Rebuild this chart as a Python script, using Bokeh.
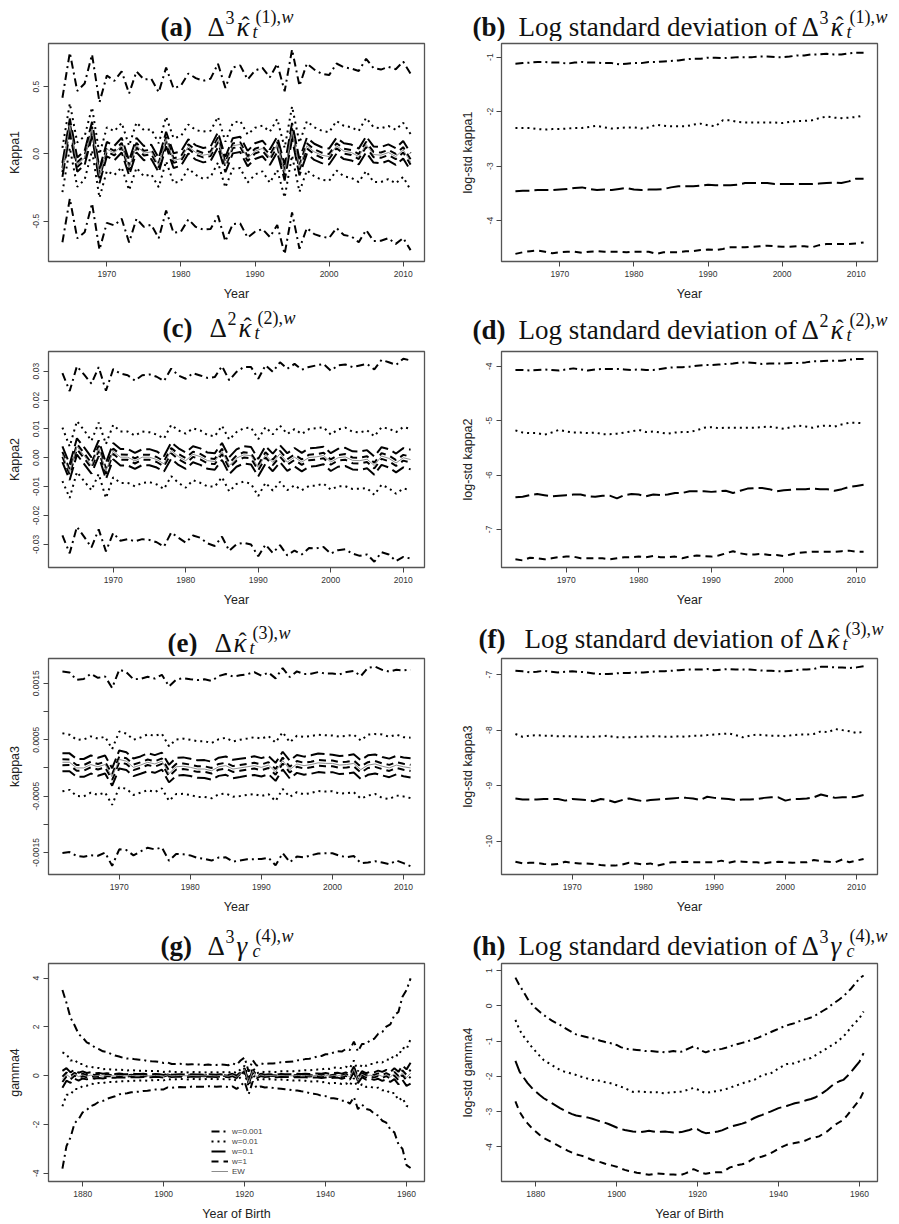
import numpy as np
from bokeh.plotting import figure
from bokeh.layouts import column, row
from bokeh.models import Range1d, FixedTicker, Label, Legend, LegendItem
from bokeh.embed import file_html
from bokeh.resources import INLINE

# ---------------- data ----------------
W_LABELS = ["w=0.001", "w=0.01", "w=0.1", "w=1"]
Z90 = 1.645  # half-width of the interval in standard deviations

# kappa1 (panels a, b) 1964-2011
years_k1 = list(range(1964, 2012))
center_k1 = [-0.12, 0.21, -0.08, -0.03, 0.185, -0.165, 0.035, 0.005, 0.065, -0.105,
             0.065, 0.005, 0.015, -0.085, 0.11, -0.05, -0.035, 0.055, 0.01, -0.01,
             0.0, 0.105, -0.08, 0.06, 0.07, -0.035, 0.02, 0.04, -0.025, 0.07,
             -0.14, 0.17, -0.1, 0.06, 0.015, -0.01, -0.02, 0.06, 0.02, 0.01,
             -0.02, 0.07, -0.005, -0.01, 0.01, -0.02, 0.03, -0.06]
lsd_k1_w0001 = [-1.12, -1.11, -1.10, -1.09, -1.09, -1.10, -1.10, -1.12, -1.10, -1.09,
                -1.10, -1.10, -1.11, -1.11, -1.13, -1.12, -1.11, -1.11, -1.09, -1.09,
                -1.08, -1.07, -1.06, -1.04, -1.03, -1.03, -1.01, -1.01, -1.02, -1.01,
                -1.00, -1.00, -1.00, -0.99, -0.99, -1.00, -1.00, -0.99, -0.97, -0.97,
                -0.95, -0.95, -0.94, -0.95, -0.95, -0.93, -0.92, -0.92]
lsd_k1_w001 = [-2.30, -2.30, -2.30, -2.32, -2.33, -2.32, -2.32, -2.31, -2.30, -2.30,
               -2.28, -2.26, -2.29, -2.31, -2.30, -2.29, -2.29, -2.31, -2.29, -2.24,
               -2.26, -2.27, -2.27, -2.27, -2.24, -2.22, -2.25, -2.27, -2.16, -2.16,
               -2.19, -2.20, -2.20, -2.20, -2.20, -2.20, -2.21, -2.19, -2.17, -2.17,
               -2.16, -2.12, -2.09, -2.11, -2.12, -2.11, -2.10, -2.07]
lsd_k1_w01 = [-3.46, -3.45, -3.45, -3.44, -3.44, -3.44, -3.43, -3.42, -3.40, -3.39,
              -3.42, -3.44, -3.43, -3.44, -3.42, -3.40, -3.43, -3.44, -3.43, -3.43,
              -3.42, -3.39, -3.37, -3.37, -3.37, -3.36, -3.34, -3.35, -3.35, -3.35,
              -3.34, -3.31, -3.31, -3.31, -3.31, -3.33, -3.33, -3.33, -3.33, -3.33,
              -3.33, -3.32, -3.31, -3.30, -3.31, -3.28, -3.23, -3.23]
lsd_k1_w1 = [-4.61, -4.58, -4.56, -4.55, -4.57, -4.60, -4.58, -4.57, -4.57, -4.59,
             -4.57, -4.56, -4.57, -4.57, -4.57, -4.58, -4.57, -4.57, -4.57, -4.61,
             -4.58, -4.58, -4.58, -4.56, -4.56, -4.54, -4.53, -4.54, -4.52, -4.49,
             -4.49, -4.49, -4.48, -4.47, -4.46, -4.47, -4.48, -4.48, -4.47, -4.47,
             -4.49, -4.45, -4.43, -4.43, -4.43, -4.43, -4.42, -4.40]

# kappa2 (panels c, d) 1963-2011
years_k2 = list(range(1963, 2012))
center_k2 = [0.0012, -0.005, 0.0039, 0.0007, -0.0027, 0.0033, -0.0046, 0.0023, 0.0002, 0.0002,
             -0.0011, 0.0002, 0.0002, -0.0006, -0.0021, 0.0025, 0.0004, -0.001, 0.0012, 0.0004,
             -0.001, -0.0013, 0.0022, -0.0027, -0.0001, 0.001, 0.0007, -0.0034, 0.001, -0.0016,
             0.0014, -0.0015, 0.0002, -0.0015, 0.0001, 0.0003, 0.0008, -0.0015, 0.0, 0.0003,
             -0.0009, -0.001, -0.0005, -0.0027, 0.0006, -0.0002, -0.0018, 0.0, -0.0006]
lsd_k2_w0001 = [-4.07, -4.07, -4.08, -4.07, -4.06, -4.07, -4.08, -4.06, -4.04, -4.06,
                -4.08, -4.06, -4.05, -4.05, -4.05, -4.06, -4.07, -4.06, -4.07, -4.07,
                -4.05, -4.03, -4.02, -4.02, -4.01, -3.99, -3.98, -3.98, -3.97, -3.96,
                -3.95, -3.93, -3.93, -3.94, -3.96, -3.95, -3.95, -3.95, -3.94, -3.94,
                -3.93, -3.91, -3.91, -3.90, -3.90, -3.90, -3.88, -3.87, -3.87]
lsd_k2_w001 = [-5.18, -5.22, -5.23, -5.23, -5.26, -5.22, -5.17, -5.20, -5.22, -5.22,
               -5.23, -5.22, -5.25, -5.25, -5.24, -5.22, -5.20, -5.17, -5.21, -5.20,
               -5.22, -5.24, -5.22, -5.21, -5.21, -5.18, -5.13, -5.12, -5.14, -5.13,
               -5.13, -5.13, -5.13, -5.13, -5.12, -5.11, -5.13, -5.15, -5.12, -5.09,
               -5.11, -5.13, -5.10, -5.09, -5.11, -5.07, -5.04, -5.04, -5.05]
lsd_k2_w01 = [-6.41, -6.40, -6.37, -6.35, -6.37, -6.39, -6.38, -6.37, -6.36, -6.36,
              -6.39, -6.40, -6.38, -6.38, -6.43, -6.37, -6.35, -6.36, -6.39, -6.36,
              -6.37, -6.36, -6.33, -6.33, -6.30, -6.30, -6.30, -6.31, -6.30, -6.29,
              -6.33, -6.29, -6.25, -6.24, -6.24, -6.26, -6.30, -6.28, -6.27, -6.26,
              -6.26, -6.25, -6.26, -6.26, -6.29, -6.26, -6.22, -6.20, -6.18]
lsd_k2_w1 = [-7.55, -7.57, -7.52, -7.53, -7.55, -7.53, -7.51, -7.50, -7.50, -7.53,
             -7.53, -7.53, -7.53, -7.55, -7.53, -7.51, -7.51, -7.50, -7.51, -7.49,
             -7.51, -7.51, -7.50, -7.53, -7.50, -7.48, -7.49, -7.50, -7.48, -7.44,
             -7.40, -7.44, -7.46, -7.46, -7.45, -7.47, -7.47, -7.49, -7.46, -7.43,
             -7.42, -7.41, -7.41, -7.41, -7.41, -7.40, -7.39, -7.41, -7.41]

# kappa3 (panels e, f) 1962-2011
years_k3 = list(range(1962, 2012))
center_k3 = [0.0001, 0.0001, 0.0, 0.0, 0.00006, 0.00002, 0.00006, -0.00016, 0.00015, 0.00012,
             0.00001, 0.00005, 0.0001, 0.00007, 0.00012, -0.0001, 0.00002, 0.00003, 0.00001, -0.00002,
             -0.00002, -0.00005, 0.00002, 0.00004, -0.00002, 0.0, 0.00002, 0.00004, 0.00001, 0.00005,
             -0.00007, 0.00013, -0.00003, 0.00007, 0.00004, 0.00006, 0.00009, 0.00008, 0.00008, 0.00005,
             0.00006, 0.00008, -0.00003, 0.00005, 0.00007, 0.00003, 0.0, 0.00005, 0.00002, 0.0]
lsd_k3_w0001 = [-6.93, -6.94, -6.96, -6.95, -6.93, -6.95, -6.96, -6.95, -6.94, -6.95,
                -6.96, -6.98, -6.99, -6.99, -6.98, -6.97, -6.97, -6.96, -6.96, -6.95,
                -6.94, -6.94, -6.93, -6.92, -6.91, -6.91, -6.91, -6.90, -6.92, -6.91,
                -6.90, -6.91, -6.91, -6.91, -6.92, -6.93, -6.93, -6.94, -6.94, -6.93,
                -6.91, -6.91, -6.90, -6.86, -6.86, -6.87, -6.87, -6.88, -6.87, -6.85]
lsd_k3_w001 = [-8.07, -8.12, -8.10, -8.09, -8.10, -8.10, -8.11, -8.11, -8.11, -8.12,
               -8.12, -8.12, -8.11, -8.10, -8.13, -8.13, -8.13, -8.12, -8.12, -8.11,
               -8.11, -8.12, -8.12, -8.11, -8.12, -8.10, -8.10, -8.09, -8.08, -8.07,
               -8.06, -8.09, -8.13, -8.10, -8.08, -8.09, -8.10, -8.10, -8.11, -8.09,
               -8.08, -8.08, -8.07, -8.02, -8.04, -7.98, -8.00, -8.02, -8.05, -8.03]
lsd_k3_w01 = [-9.23, -9.25, -9.25, -9.25, -9.24, -9.24, -9.24, -9.27, -9.24, -9.25,
              -9.26, -9.28, -9.24, -9.26, -9.30, -9.26, -9.23, -9.26, -9.28, -9.26,
              -9.25, -9.24, -9.23, -9.22, -9.22, -9.23, -9.26, -9.20, -9.22, -9.23,
              -9.24, -9.26, -9.25, -9.25, -9.24, -9.22, -9.21, -9.21, -9.27, -9.24,
              -9.24, -9.23, -9.21, -9.16, -9.19, -9.22, -9.21, -9.21, -9.20, -9.17]
lsd_k3_w1 = [-10.37, -10.40, -10.39, -10.39, -10.41, -10.42, -10.41, -10.37, -10.39, -10.40,
             -10.40, -10.41, -10.43, -10.44, -10.44, -10.42, -10.39, -10.40, -10.42, -10.40,
             -10.44, -10.41, -10.38, -10.38, -10.37, -10.38, -10.38, -10.38, -10.38, -10.35,
             -10.39, -10.36, -10.37, -10.38, -10.38, -10.40, -10.38, -10.37, -10.38, -10.39,
             -10.38, -10.38, -10.34, -10.36, -10.37, -10.38, -10.33, -10.38, -10.35, -10.32]

# gamma4 (panels g, h) birth years 1875-1961
years_g4 = list(range(1875, 1962))
center_g4 = [-0.15, 0.05, -0.08, 0.06, -0.04, 0.03, -0.02, 0.02, -0.01, 0.01,
             -0.02, 0.01, 0.0, -0.01, 0.01, 0.0, -0.01, 0.01, 0.0, 0.0,
             0.01, -0.01, 0.0, 0.01, 0.0, -0.02, 0.03, -0.01, 0.0, 0.01,
             0.0, -0.01, 0.01, 0.0, 0.0, -0.01, 0.01, 0.0, -0.01, 0.01,
             0.0, -0.02, 0.03, -0.05, 0.1, 0.25, -0.3, 0.2, -0.05, 0.03,
             -0.01, 0.01, 0.0, -0.01, 0.01, 0.0, 0.0, -0.01, 0.01, 0.0,
             0.01, -0.01, 0.0, 0.01, -0.01, 0.02, -0.02, 0.01, 0.02, -0.02,
             0.03, -0.05, 0.26, -0.19, 0.06, -0.03, 0.02, -0.02, 0.04, -0.03,
             0.04, -0.05, 0.08, -0.1, 0.12, -0.08, 0.1]
lsd_g4_w0001 = [0.80, 0.58, 0.40, 0.20, 0.06, -0.07, -0.17, -0.26, -0.34, -0.42,
                -0.48, -0.54, -0.61, -0.68, -0.75, -0.81, -0.84, -0.87, -0.90, -0.92,
                -0.95, -0.99, -1.02, -1.05, -1.07, -1.11, -1.17, -1.21, -1.23, -1.24,
                -1.25, -1.26, -1.28, -1.28, -1.29, -1.30, -1.30, -1.32, -1.30, -1.28,
                -1.30, -1.30, -1.25, -1.20, -1.15, -1.20, -1.27, -1.32, -1.28, -1.25,
                -1.24, -1.22, -1.19, -1.15, -1.11, -1.08, -1.05, -1.02, -0.98, -0.94,
                -0.90, -0.85, -0.80, -0.75, -0.70, -0.65, -0.60, -0.56, -0.52, -0.49,
                -0.44, -0.40, -0.37, -0.33, -0.28, -0.21, -0.14, -0.07, 0.02, 0.10,
                0.18, 0.27, 0.38, 0.50, 0.64, 0.78, 0.86]
lsd_g4_w001 = [-0.40, -0.68, -0.86, -1.01, -1.16, -1.29, -1.42, -1.54, -1.61, -1.68,
               -1.75, -1.82, -1.86, -1.89, -1.93, -1.96, -2.00, -2.03, -2.07, -2.10,
               -2.11, -2.13, -2.16, -2.18, -2.21, -2.25, -2.29, -2.33, -2.39, -2.44,
               -2.43, -2.43, -2.44, -2.45, -2.45, -2.45, -2.47, -2.48, -2.46, -2.45,
               -2.44, -2.43, -2.40, -2.36, -2.33, -2.37, -2.43, -2.47, -2.45, -2.43,
               -2.41, -2.39, -2.36, -2.32, -2.28, -2.24, -2.20, -2.16, -2.13, -2.10,
               -2.03, -1.96, -1.94, -1.92, -1.85, -1.77, -1.71, -1.65, -1.64, -1.63,
               -1.58, -1.53, -1.51, -1.48, -1.41, -1.34, -1.27, -1.20, -1.13, -1.06,
               -0.97, -0.87, -0.74, -0.59, -0.47, -0.35, -0.16]
lsd_g4_w01 = [-1.56, -1.86, -2.03, -2.19, -2.32, -2.43, -2.53, -2.62, -2.69, -2.76,
              -2.83, -2.90, -2.96, -3.02, -3.07, -3.11, -3.13, -3.14, -3.17, -3.20,
              -3.24, -3.28, -3.31, -3.35, -3.40, -3.45, -3.49, -3.52, -3.54, -3.56,
              -3.57, -3.58, -3.56, -3.54, -3.56, -3.58, -3.57, -3.56, -3.58, -3.59,
              -3.59, -3.58, -3.55, -3.52, -3.47, -3.50, -3.57, -3.61, -3.60, -3.58,
              -3.56, -3.53, -3.48, -3.43, -3.40, -3.37, -3.34, -3.30, -3.24, -3.18,
              -3.13, -3.09, -3.04, -3.00, -2.95, -2.90, -2.87, -2.84, -2.80, -2.76,
              -2.74, -2.71, -2.67, -2.64, -2.60, -2.54, -2.46, -2.38, -2.28, -2.19,
              -2.14, -2.10, -1.99, -1.86, -1.72, -1.58, -1.34]
lsd_g4_w1 = [-2.71, -3.00, -3.18, -3.33, -3.46, -3.56, -3.66, -3.75, -3.81, -3.87,
             -3.93, -3.99, -4.05, -4.11, -4.16, -4.21, -4.24, -4.27, -4.32, -4.37,
             -4.40, -4.43, -4.47, -4.51, -4.53, -4.56, -4.61, -4.65, -4.68, -4.70,
             -4.73, -4.75, -4.77, -4.79, -4.77, -4.75, -4.76, -4.77, -4.78, -4.78,
             -4.79, -4.79, -4.75, -4.70, -4.63, -4.68, -4.74, -4.76, -4.74, -4.72,
             -4.72, -4.72, -4.65, -4.58, -4.55, -4.51, -4.49, -4.46, -4.39, -4.32,
             -4.30, -4.27, -4.23, -4.18, -4.12, -4.05, -3.99, -3.94, -3.91, -3.89,
             -3.87, -3.85, -3.80, -3.75, -3.73, -3.70, -3.63, -3.56, -3.46, -3.37,
             -3.30, -3.23, -3.10, -2.95, -2.81, -2.67, -2.43]

# ---------------- styling ----------------
DASHES = ["8 4 2 4", "2 4", "14 5", "7 5"]
LW = 2.0
SANS = "Liberation Sans"
SERIF = "Liberation Serif"
LABEL_SHIFT = 7   # compensates the label baseline offset observed in the render
SUP = 9
SUB = -5


def make_fig(width, height, bl, br, bt, bb, xr, yr, xticks, yticks, ylabels, xtitle, ytitle):
    p = figure(width=width, height=height, min_border_left=bl, min_border_right=br,
               min_border_top=bt, min_border_bottom=bb,
               x_range=Range1d(*xr), y_range=Range1d(*yr),
               output_backend="svg", toolbar_location=None, tools="")
    p.title.visible = False
    p.xgrid.visible = False
    p.ygrid.visible = False
    p.outline_line_color = "#555555"
    p.outline_line_width = 1.3
    p.background_fill_color = "white"
    p.border_fill_color = "white"
    for ax in (p.xaxis[0], p.yaxis[0]):
        ax.axis_line_color = None
        ax.major_tick_line_color = "#444444"
        ax.major_tick_out = 5
        ax.major_tick_in = 0
        ax.minor_tick_line_color = None
        ax.major_label_text_font = SANS
        ax.major_label_text_font_size = "8.5px"
        ax.major_label_text_color = "#333333"
        ax.major_label_standoff = 4
        ax.axis_label_text_font = SANS
        ax.axis_label_text_font_size = "12.5px"
        ax.axis_label_text_font_style = "normal"
        ax.axis_label_text_color = "#222222"
    p.xaxis.ticker = FixedTicker(ticks=xticks)
    p.xaxis.major_label_overrides = {t: str(t) for t in xticks}
    p.yaxis.ticker = FixedTicker(ticks=yticks)
    p.yaxis.major_label_overrides = dict(zip(yticks, ylabels))
    p.yaxis.major_label_orientation = "vertical"
    p.xaxis.axis_label = xtitle
    p.yaxis.axis_label = ytitle
    p.xaxis.axis_label_standoff = 7
    p.yaxis.axis_label_standoff = 9
    return p


def title_fig(width, height, row_top, col_left, baseline_abs, pieces):
    t = figure(width=width, height=height, min_border=0, x_range=Range1d(0, 1), y_range=Range1d(0, 1),
               x_axis_location=None, y_axis_location=None, output_backend="svg",
               toolbar_location=None, tools="")
    t.title.visible = False
    t.xgrid.visible = False
    t.ygrid.visible = False
    t.outline_line_color = None
    t.background_fill_color = "white"
    t.border_fill_color = "white"
    bottom_abs = row_top + height
    for txt, ax, dy, size, style in pieces:
        t.add_layout(Label(x=ax - col_left, y=bottom_abs - baseline_abs + dy + LABEL_SHIFT,
                           x_units="screen", y_units="screen", text=txt,
                           text_font=SERIF, text_font_size=f"{size}px",
                           text_font_style=style, text_baseline="alphabetic",
                           text_align="left", text_color="#111111"))
    return t


def left_panel(p, years, center, lsds):
    yrs = np.array(years, dtype=float)
    c = np.array(center, dtype=float)
    renderers = []
    for ls, dash in zip(lsds, DASHES):
        hw = Z90 * np.exp(np.array(ls, dtype=float))
        r = p.line(yrs, c + hw, line_color="black", line_width=LW, line_dash=dash)
        p.line(yrs, c - hw, line_color="black", line_width=LW, line_dash=dash)
        renderers.append(r)
    ew = p.line(yrs, c, line_color="#8c8c8c", line_width=1.0)
    renderers.append(ew)
    return renderers


def right_panel(p, years, lsds):
    for ls, dash in zip(lsds, DASHES):
        p.line(years, ls, line_color="black", line_width=LW, line_dash=dash)


def math_title(label, x0, sup1, sym, hat, sub, sup2, with_log=False):
    """Pieces of a title such as '(a)  Δ³κ̂_t^{(1),w}' positioned from the reference."""
    pcs = [(label, x0, 0, 27, "bold")]
    x = x0 + 47
    if with_log:
        pcs.append(("Log standard deviation of", x0 + 46, 0, 27, "normal"))
        x = x0 + 329
    pcs.append(("Δ", x, 0, 27, "normal"))
    if sup1:
        pcs.append((sup1, x + 18, SUP, 18, "normal"))
        sx = x + 29
    else:
        sx = x + 19
    pcs.append((sym, sx, 0, 27, "italic"))
    if hat:
        pcs.append(("ˆ", sx + 5, 2, 24, "normal"))
    pcs.append((sub, sx + 16, SUB, 18, "italic"))
    pcs.append((sup2, sx + 19, SUP + 1, 18, "normal"))
    pcs.append(("w", sx + 45, SUP + 1, 18, "italic"))
    return pcs


ROW_H = [307, 307, 305, 305]
ROW_TOP = [0, 307, 614, 919]
BT = [43, 44, 44, 44]
FH = [218, 216, 216, 218]

panels = [
    dict(years=years_k1, center=center_k1,
         lsds=[lsd_k1_w0001, lsd_k1_w001, lsd_k1_w01, lsd_k1_w1],
         xr=(1962.12, 2012.88), xt=[1970, 1980, 1990, 2000, 2010], xlab="Year",
         left=dict(yr=(-0.80, 0.82), yt=[-0.5, 0.0, 0.5], yl=["-0.5", "0.0", "0.5"], ylab="Kappa1",
                   base=33, title=math_title("(a)", 160, "3", "κ", True, "t", "(1),")),
         right=dict(yr=(-4.75, -0.75), yt=[-4, -3, -2, -1], yl=["-4", "-3", "-2", "-1"],
                    ylab="log-std kappa1", base=33,
                    title=math_title("(b)", 472, "3", "κ", True, "t", "(1),", True))),
    dict(years=years_k2, center=center_k2,
         lsds=[lsd_k2_w0001, lsd_k2_w001, lsd_k2_w01, lsd_k2_w1],
         xr=(1961.08, 2012.92), xt=[1970, 1980, 1990, 2000, 2010], xlab="Year",
         left=dict(yr=(-0.038, 0.0368), yt=[-0.03, -0.02, -0.01, 0.0, 0.01, 0.02, 0.03],
                   yl=["-0.03", "-0.02", "-0.01", "0.00", "0.01", "0.02", "0.03"], ylab="Kappa2",
                   base=334, title=math_title("(c)", 162, "2", "κ", True, "t", "(2),")),
         right=dict(yr=(-7.70, -3.73), yt=[-7, -6, -5, -4], yl=["-7", "-6", "-5", "-4"],
                    ylab="log-std kappa2", base=336,
                    title=math_title("(d)", 472, "2", "κ", True, "t", "(2),", True))),
    dict(years=years_k3, center=center_k3,
         lsds=[lsd_k3_w0001, lsd_k3_w001, lsd_k3_w01, lsd_k3_w1],
         xr=(1960.04, 2012.96), xt=[1970, 1980, 1990, 2000, 2010], xlab="Year",
         left=dict(yr=(-0.00189, 0.00194),
                   yt=[-0.0015, -0.001, -0.0005, 0.0, 0.0005, 0.001, 0.0015],
                   yl=["-0.0015", "", "-0.0005", "", "0.0005", "", "0.0015"], ylab="kappa3",
                   base=649, title=math_title("(e)", 167, "", "κ", True, "t", "(3),")),
         right=dict(yr=(-10.60, -6.71), yt=[-10, -9, -8, -7], yl=["-10", "-9", "-8", "-7"],
                    ylab="log-std kappa3", base=645,
                    title=math_title("(f)", 478, "", "κ", True, "t", "(3),", True))),
    dict(years=years_g4, center=center_g4,
         lsds=[lsd_g4_w0001, lsd_g4_w001, lsd_g4_w01, lsd_g4_w1],
         xr=(1871.56, 1964.44), xt=[1880, 1900, 1920, 1940, 1960], xlab="Year of Birth",
         left=dict(yr=(-4.34, 4.60), yt=[-4, -2, 0, 2, 4], yl=["-4", "-2", "0", "2", "4"],
                   ylab="gamma4", base=952, title=math_title("(g)", 160, "3", "γ", False, "c", "(4),")),
         right=dict(yr=(-4.98, 1.20), yt=[-4, -3, -2, -1, 0, 1], yl=["-4", "-3", "-2", "-1", "0", "1"],
                    ylab="log-std gamma4", base=952,
                    title=math_title("(h)", 472, "3", "γ", False, "c", "(4),", True))),
]

blocks = []
for i, pd_ in enumerate(panels):
    th = BT[i] - 2          # height of the title strip
    ph = ROW_H[i] - th      # height of the plot figure
    fh = FH[i]
    bb = ph - 2 - fh
    L = pd_["left"]
    R = pd_["right"]
    tl = title_fig(450, th, ROW_TOP[i], 0, L["base"], L["title"])
    tr = title_fig(449, th, ROW_TOP[i], 450, R["base"], R["title"])
    pl = make_fig(450, ph, 48, 26, 2, bb, pd_["xr"], L["yr"], pd_["xt"], L["yt"], L["yl"],
                  pd_["xlab"], L["ylab"])
    rends = left_panel(pl, pd_["years"], pd_["center"], pd_["lsds"])
    if i == 3:
        items = [LegendItem(label=lab, renderers=[r]) for lab, r in zip(W_LABELS + ["EW"], rends)]
        leg = Legend(items=items, location=(163, 5), padding=0, margin=0, spacing=0,
                     label_height=10, glyph_height=10, glyph_width=17, label_standoff=4,
                     label_text_font=SANS, label_text_font_size="8px", label_text_color="#444444",
                     border_line_color=None, background_fill_alpha=0.0)
        pl.add_layout(leg)
    pr = make_fig(449, ph, 51, 22, 2, bb, pd_["xr"], R["yr"], pd_["xt"], R["yt"], R["yl"],
                  pd_["xlab"], R["ylab"])
    right_panel(pr, pd_["years"], pd_["lsds"])
    blocks.append(row(tl, tr, spacing=0))
    blocks.append(row(pl, pr, spacing=0))

layout = column(*blocks, spacing=0)
open("out.html", "w").write(file_html(layout, INLINE))
